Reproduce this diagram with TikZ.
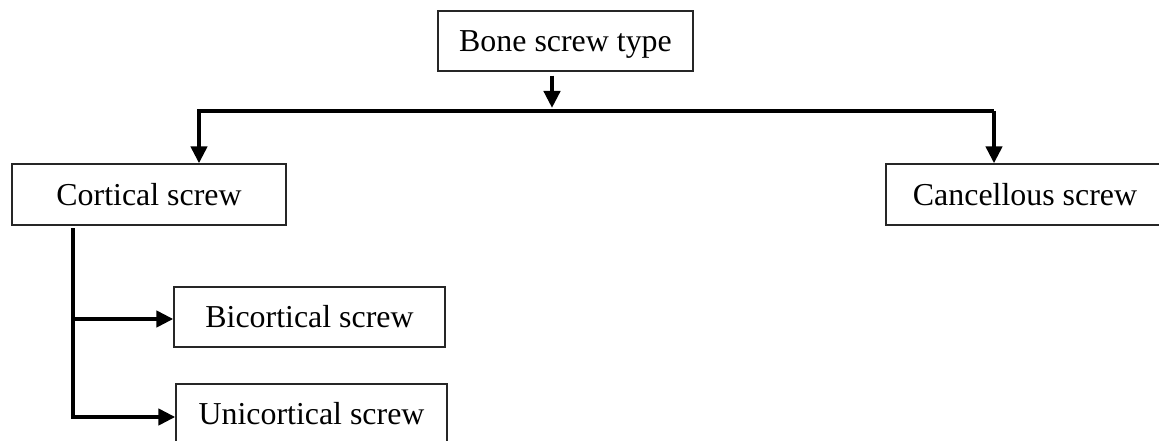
\documentclass[tikz,border=0pt]{standalone}
\usepackage{fontspec}
\setmainfont{Liberation Serif}
\usetikzlibrary{arrows.meta}
\begin{document}
\begin{tikzpicture}[x=1pt,y=-1pt,
  box/.style={draw=black!85, line width=1.3pt, inner sep=0pt,
    font=\fontsize{31.9}{38}\selectfont, text height=21pt, text depth=0pt},
  link/.style={line width=4.5pt, line join=miter},
  tip/.style={-{Triangle[length=17pt,width=16pt]}}]
\useasboundingbox (0,0) rectangle (1159,441);
\clip (0,0) rectangle (1159,441);

% boxes
\node[box, minimum width=255pt, minimum height=60pt] (type) at (565.5,41) {Bone screw type};
\node[box, minimum width=274pt, minimum height=61pt] (cort) at (149,194.5) {Cortical screw};
\node[box, minimum width=278pt, minimum height=61pt] (canc) at (1025,194.5) {Cancellous screw};
\node[box, minimum width=271pt, minimum height=60pt] (bic) at (309.5,317) {Bicortical screw};
\node[box, minimum width=271pt, minimum height=60pt] (uni) at (311.5,414) {Unicortical screw};

% splitter under the top box
\coordinate (drop) at (552,108);
\coordinate (barL) at (199,111);
\coordinate (barR) at (994,111);
\draw[link,tip] ([yshift=-4pt]drop |- type.south) -- (drop);
\draw[link,tip] (barR) -- (barL) -- (barL |- cort.north);
\draw[link,tip] (barR) -- (barR |- canc.north);

% branches of the cortical screw
\coordinate (trunk) at (73,228);
\coordinate (bicin) at ([yshift=-2pt]bic.west);
\coordinate (uniin) at ([yshift=-3pt]uni.west);
\draw[link] (trunk) -- (trunk |- uniin);
\draw[link,tip] (bicin -| trunk) -- (bicin);
\draw[link,tip] ([xshift=-2.25pt]uniin -| trunk) -- (uniin);
\end{tikzpicture}
\end{document}
